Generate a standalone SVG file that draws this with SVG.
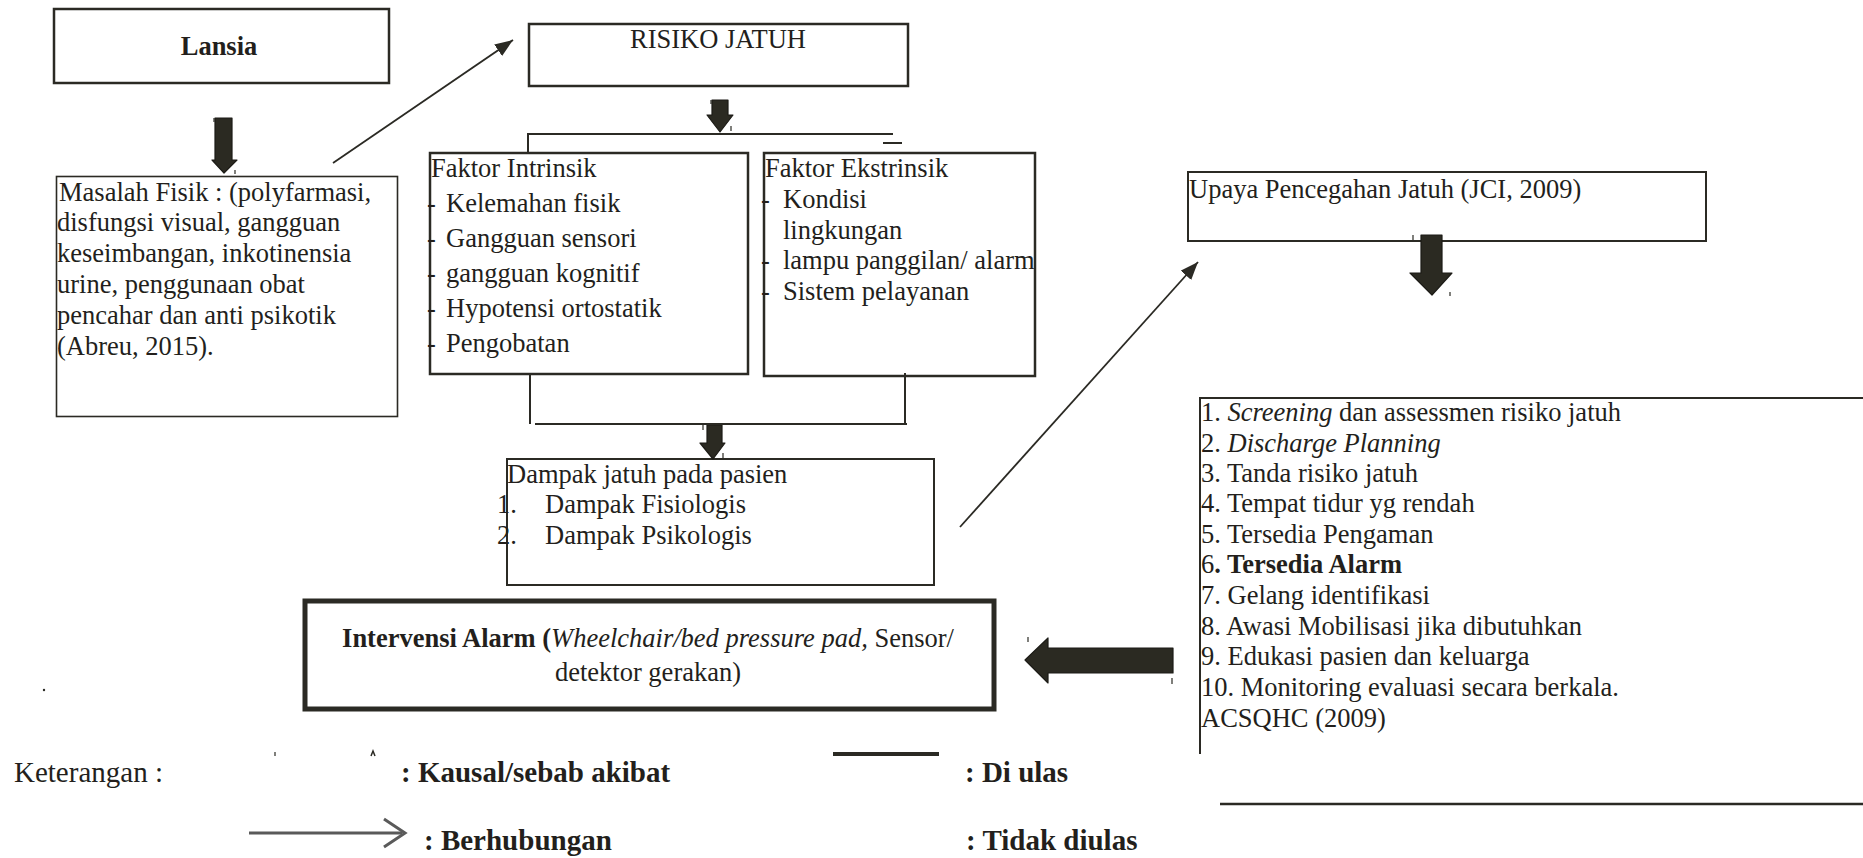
<svg xmlns="http://www.w3.org/2000/svg" width="1863" height="858" viewBox="0 0 1863 858">
<style>
text{font-family:"Liberation Serif","Times New Roman",serif;font-size:26.5px;fill:#231f1c}
.b{font-weight:bold}
.i{font-style:italic}
.lg{font-size:29px}
.box{fill:#fff;stroke:#2b2a24;stroke-width:2}
.bx25{stroke-width:2.5}
.bx16{stroke-width:1.6}
.bx5{stroke-width:5}
.ln{fill:none;stroke:#2b2a24;stroke-width:2}
.ln25{stroke-width:2.5}
.blk{fill:#2b2a22;stroke:#1c1b16;stroke-width:1.2;stroke-linejoin:round}
.thin{fill:none;stroke:#2b2a24;stroke-width:1.8}
.tick{stroke:#2b2a24;stroke-width:1.2}
</style>
<defs>
<marker id="ah" markerUnits="userSpaceOnUse" markerWidth="20" markerHeight="16" refX="18" refY="7" orient="auto">
<path d="M0,0 L18,7 L0,14 Z" fill="#2b2a24"/>
</marker>
</defs>
<rect width="1863" height="858" fill="#fff"/>

<g id="lansia">
<rect class="box bx25" x="54" y="9" width="335" height="74"/>
<text class="b" x="219" y="55" text-anchor="middle">Lansia</text>
</g>

<g id="masalah-fisik">
<rect class="box bx16" x="56.5" y="176.5" width="341" height="240"/>
<text x="59" y="201">Masalah Fisik : (polyfarmasi,</text>
<text x="57" y="231">disfungsi visual, gangguan</text>
<text x="57" y="262">keseimbangan, inkotinensia</text>
<text x="57" y="293">urine, penggunaan obat</text>
<text x="57" y="324">pencahar dan anti psikotik</text>
<text x="57" y="355">(Abreu, 2015).</text>
</g>

<g id="risiko-jatuh">
<rect class="box bx25" x="529" y="24" width="379" height="62"/>
<text x="718" y="48" text-anchor="middle">RISIKO JATUH</text>
</g>

<g id="faktor-intrinsik">
<rect class="box bx25" x="430" y="153" width="318" height="221"/>
<text x="431" y="177">Faktor Intrinsik</text>
<text x="427" y="212">-</text><text x="446" y="212">Kelemahan fisik</text>
<text x="427" y="247">-</text><text x="446" y="247">Gangguan sensori</text>
<text x="427" y="282">-</text><text x="446" y="282">gangguan kognitif</text>
<text x="427" y="317">-</text><text x="446" y="317">Hypotensi ortostatik</text>
<text x="427" y="352">-</text><text x="446" y="352">Pengobatan</text>
</g>

<g id="faktor-ekstrinsik">
<rect class="box bx25" x="764" y="153" width="271" height="223"/>
<text x="765" y="177">Faktor Ekstrinsik</text>
<text x="761" y="208">-</text><text x="783" y="208">Kondisi</text>
<text x="783" y="239">lingkungan</text>
<text x="761" y="269">-</text><text x="783" y="269">lampu panggilan/ alarm</text>
<text x="761" y="300">-</text><text x="783" y="300">Sistem pelayanan</text>
</g>

<g id="dampak-jatuh">
<rect class="box" x="507" y="459" width="427" height="126"/>
<text x="507" y="483">Dampak jatuh pada pasien</text>
<text x="497" y="513">1.</text><text x="545" y="513">Dampak Fisiologis</text>
<text x="497" y="544">2.</text><text x="545" y="544">Dampak Psikologis</text>
</g>

<g id="intervensi-alarm">
<rect class="box bx5" x="305" y="601" width="689" height="108"/>
<text x="648" y="647" text-anchor="middle"><tspan class="b">Intervensi Alarm (</tspan><tspan class="i">Wheelchair/bed pressure pad,</tspan> Sensor/</text>
<text x="648" y="681" text-anchor="middle">detektor gerakan)</text>
</g>

<g id="upaya-pencegahan">
<rect class="box" x="1188" y="172" width="518" height="69"/>
<text x="1189" y="198">Upaya Pencegahan Jatuh (JCI, 2009)</text>
</g>

<g id="daftar-upaya">
<line class="ln" x1="1199" y1="398" x2="1863" y2="398"/>
<line class="ln" x1="1200" y1="397" x2="1200" y2="754"/>
<text x="1201" y="421">1. <tspan class="i">Screening</tspan> dan assessmen risiko jatuh</text>
<text x="1201" y="452">2. <tspan class="i">Discharge Planning</tspan></text>
<text x="1201" y="482">3. Tanda risiko jatuh</text>
<text x="1201" y="512">4. Tempat tidur yg rendah</text>
<text x="1201" y="543">5. Tersedia Pengaman</text>
<text x="1201" y="573">6<tspan class="b">. Tersedia Alarm</tspan></text>
<text x="1201" y="604">7. Gelang identifikasi</text>
<text x="1201" y="635">8. Awasi Mobilisasi jika dibutuhkan</text>
<text x="1201" y="665">9. Edukasi pasien dan keluarga</text>
<text x="1201" y="696">10. Monitoring evaluasi secara berkala.</text>
<text x="1201" y="727">ACSQHC (2009)</text>
</g>

<g id="connectors">
<path class="blk" d="M215,118 H232 V160 H237 L224,173 L212,160 H215 Z"/>
<path class="blk" d="M712,100 H728 V115 H733 L720,132 L707,115 H712 Z"/>
<path class="blk" d="M707,425 H722 V443 H725 L713,459 L700,443 H707 Z"/>
<path class="blk" d="M1421,235 H1442 V273 H1452 L1432,295 L1410,273 H1421 Z"/>
<path class="blk" d="M1173,648 V673 H1048 V683 L1025,660 L1048,638 V648 Z"/>
<line class="thin" x1="333" y1="163" x2="513" y2="40" marker-end="url(#ah)"/>
<line class="thin" x1="960" y1="527" x2="1198" y2="262" marker-end="url(#ah)"/>
<polyline class="ln" points="528,153 528,134 893,134"/>
<line class="ln" x1="883" y1="143" x2="902" y2="143"/>
<line class="ln" x1="530" y1="374" x2="530" y2="424"/>
<line class="ln" x1="905" y1="373" x2="905" y2="424"/>
<line class="ln" x1="535" y1="424" x2="907" y2="424"/>
<line class="ln ln25" x1="1220" y1="804" x2="1863" y2="804"/>
</g>

<g id="marks">
<line class="tick" x1="214" y1="118" x2="214" y2="122"/>
<line class="tick" x1="235" y1="170" x2="235" y2="174"/>
<line class="tick" x1="711" y1="100" x2="711" y2="104"/>
<line class="tick" x1="731" y1="126" x2="731" y2="131"/>
<line class="tick" x1="1413" y1="235" x2="1413" y2="240"/>
<line class="tick" x1="1450" y1="292" x2="1450" y2="296"/>
<line class="tick" x1="703" y1="425" x2="703" y2="430"/>
<line class="tick" x1="723" y1="453" x2="723" y2="459"/>
<line class="tick" x1="1028" y1="637" x2="1028" y2="642"/>
<line class="tick" x1="1172" y1="678" x2="1172" y2="684"/>
<circle cx="44" cy="690" r="1.2" fill="#2b2a24"/>
</g>

<g id="legend">
<text class="lg" x="14" y="782">Keterangan :</text>
<line class="tick" x1="275" y1="752" x2="275" y2="756"/>
<path d="M371,756 L373,751 L375,756" fill="none" stroke="#2b2a24" stroke-width="1.5"/>
<text class="lg b" x="401" y="782">: Kausal/sebab akibat</text>
<rect x="833" y="752" width="106" height="4" fill="#2b2a24"/>
<text class="lg b" x="965" y="782">: Di ulas</text>
<line x1="249" y1="833" x2="402" y2="833" stroke="#5a5a5a" stroke-width="3"/>
<polyline points="384,819 405,833 384,847" fill="none" stroke="#5a5a5a" stroke-width="3"/>
<text class="lg b" x="424" y="850">: Berhubungan</text>
<text class="lg b" x="966" y="850">: Tidak diulas</text>
</g>
</svg>
